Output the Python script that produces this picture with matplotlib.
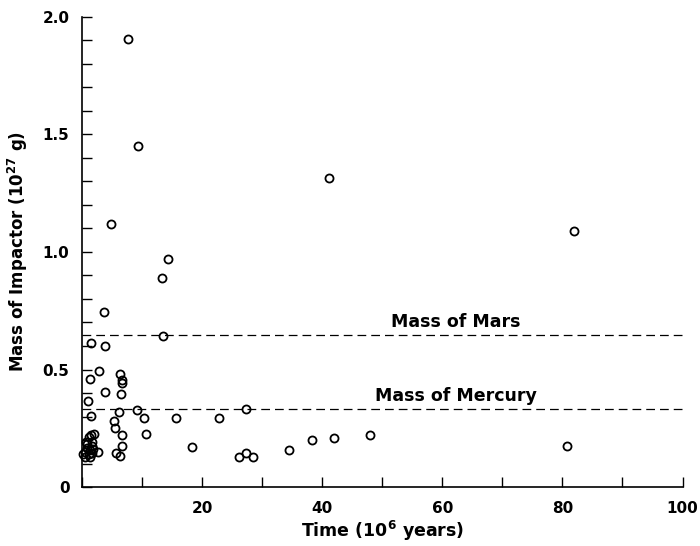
import numpy as np
import matplotlib
matplotlib.use('Agg')
import matplotlib.pyplot as plt

plt.rcParams['font.family'] = 'DejaVu Sans'
plt.rcParams['font.weight'] = 'bold'

# time (10^6 yr) and impactor mass (10^27 g)
time_myr = [7.6, 9.3, 4.9, 41.1, 81.9, 14.4, 13.4, 3.7, 13.5, 1.45,
            3.8, 2.8, 1.4, 6.3, 6.6, 6.6, 3.8, 6.5, 1.05, 9.2,
            6.2, 1.45, 10.3, 15.6, 22.9, 27.4, 5.3, 5.5, 10.6, 6.6,
            6.6, 5.6, 6.3, 18.4, 26.1, 27.3, 28.5, 34.4, 38.3, 42.0,
            48.0, 80.8,
            1.45, 2.0, 1.2, 0.65, 1.65, 1.7, 0.8, 1.8, 1.3, 0.45,
            2.7, 0.25, 1.2, 0.55, 1.3, 1.7, 0.9]
mass = [1.906, 1.451, 1.118, 1.314, 1.091, 0.969, 0.891, 0.743, 0.644, 0.611,
        0.600, 0.492, 0.461, 0.480, 0.454, 0.441, 0.403, 0.396, 0.367, 0.326,
        0.318, 0.303, 0.295, 0.292, 0.295, 0.330, 0.281, 0.252, 0.227, 0.221,
        0.176, 0.146, 0.133, 0.169, 0.129, 0.146, 0.129, 0.156, 0.199, 0.210,
        0.220, 0.176,
        0.223, 0.226, 0.211, 0.193, 0.193, 0.176, 0.166, 0.163, 0.157, 0.148,
        0.148, 0.140, 0.140, 0.128, 0.128, 0.146, 0.183]

mass_mars = 0.645
mass_mercury = 0.333

fig = plt.figure(figsize=(7.0, 5.46), dpi=100)
ax = fig.add_axes([0.117, 0.108, 0.858, 0.861])

ax.plot(time_myr, mass, 'o', markersize=5.8, markerfacecolor='none',
        markeredgecolor='black', markeredgewidth=1.3, clip_on=False)

ax.axhline(mass_mars, color='black', lw=0.9, dashes=(7, 4))
ax.axhline(mass_mercury, color='black', lw=0.9, dashes=(7, 4))
ax.text(62.2, mass_mars + 0.02, 'Mass of Mars', ha='center', va='bottom',
        fontsize=12.5, fontweight='bold')
ax.text(62.2, mass_mercury + 0.017, 'Mass of Mercury', ha='center', va='bottom',
        fontsize=12.5, fontweight='bold')

ax.set_xlim(0, 100)
ax.set_ylim(0, 2.0)
ax.set_xticks(np.arange(0, 101, 10))
ax.set_xticklabels(['', '', '20', '', '40', '', '60', '', '80', '', '100'])
ax.set_yticks(np.arange(0, 2.01, 0.1))
ylab = []
for v in np.arange(0, 2.01, 0.1):
    if abs(v) < 1e-9:
        ylab.append('0')
    elif abs(v * 2 - round(v * 2)) < 1e-6:
        ylab.append('%.1f' % v)
    else:
        ylab.append('')
ax.set_yticklabels(ylab)

ax.tick_params(direction='in', length=7, width=1.0, labelsize=11, colors='black')
ax.tick_params(axis='x', pad=10)
ax.tick_params(axis='y', pad=9)
for t in ax.get_xticklabels() + ax.get_yticklabels():
    t.set_fontweight('bold')

ax.spines['top'].set_visible(False)
ax.spines['right'].set_visible(False)
ax.spines['left'].set_linewidth(1.2)
ax.spines['bottom'].set_linewidth(1.2)

ax.set_xlabel('Time (10$^{6}$ years)', fontsize=12.5, fontweight='bold', labelpad=2)
ax.set_ylabel('Mass of Impactor (10$^{27}$ g)', fontsize=12, fontweight='bold', labelpad=9)

fig.savefig('out.png', dpi=100)
